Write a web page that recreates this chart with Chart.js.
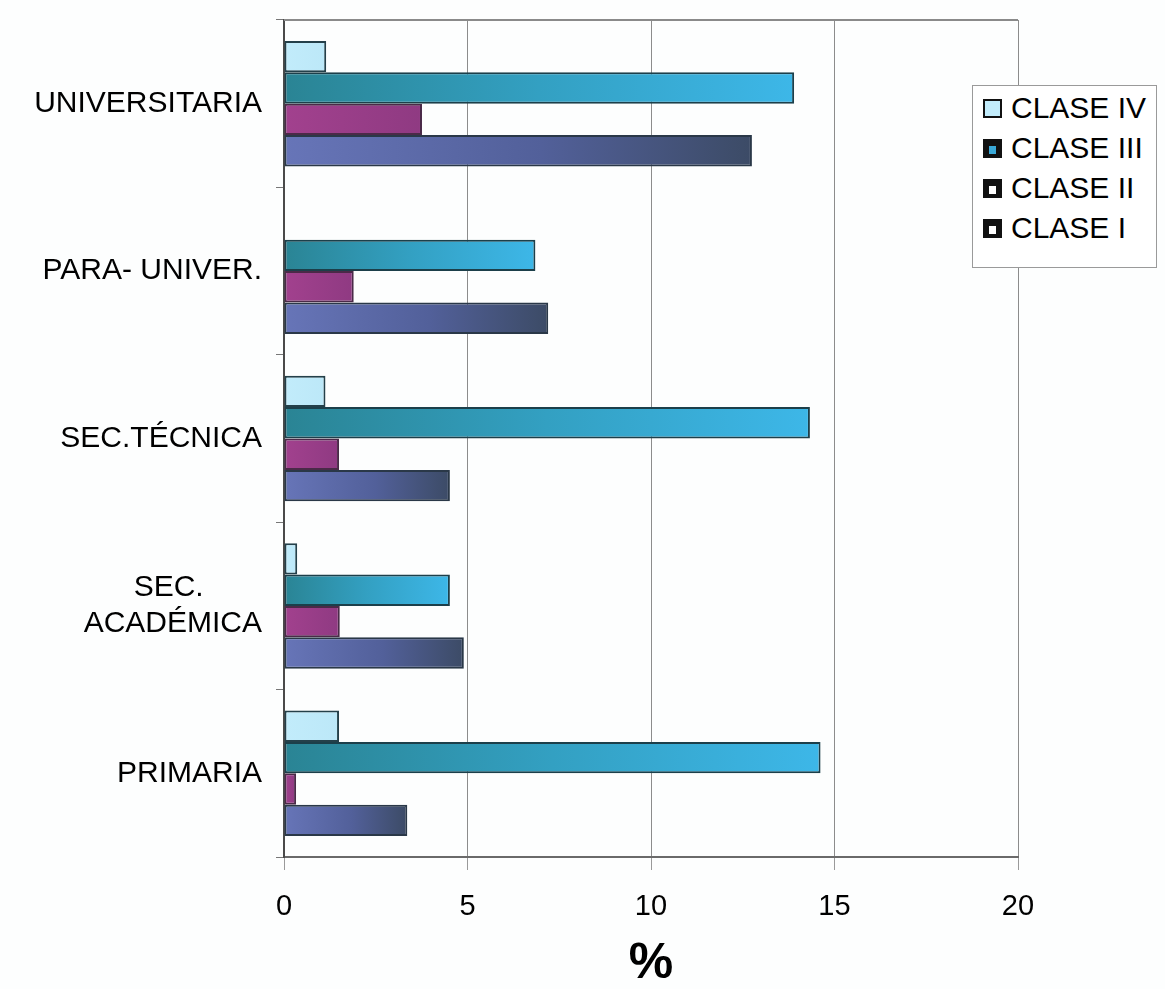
<!DOCTYPE html>
<html>
<head>
<meta charset="utf-8">
<script src="https://cdn.jsdelivr.net/npm/chart.js@4/dist/chart.umd.min.js"></script>
<style>
  html, body { margin: 0; padding: 0; background: #ffffff; }
  #wrap { position: relative; width: 1165px; height: 989px; overflow: hidden; background: #fdfefe; }
  #legend {
    position: absolute; left: 972px; top: 85px; width: 185px; height: 183px;
    border: 1px solid #9a9a9a; background: #ffffff; box-sizing: border-box;
    font-family: "Liberation Sans", Arial, sans-serif; font-size: 30px; color: #000;
  }
  .item { position: absolute; left: 10px; height: 30px; line-height: 30px; white-space: nowrap; }
  .sw { position: absolute; left: 0; top: 6px; width: 19px; height: 19px; box-sizing: border-box; border: 2px solid #111; }
  .sw i { position: absolute; left: 4px; top: 5px; width: 7px; height: 8px; }
  .lbl { position: absolute; left: 28px; top: 0; }
</style>
</head>
<body>
<div id="wrap">
  <canvas id="c" width="1165" height="989"></canvas>
  <div id="legend"></div>
</div>
<script>
// ---- data ----
const categories = ['UNIVERSITARIA', 'PARA- UNIVER.', 'SEC.TÉCNICA', ['SEC.       ', 'ACADÉMICA'], 'PRIMARIA'];
const seriesNames = ['CLASE IV', 'CLASE III', 'CLASE II', 'CLASE I'];
const claseIV  = [1.15, 0, 1.13, 0.36, 1.5];
const claseIII = [13.9, 6.85, 14.33, 4.52, 14.62];
const claseII  = [3.76, 1.9, 1.5, 1.52, 0.33];
const claseI   = [12.75, 7.2, 4.52, 4.9, 3.36];
const xTicks   = [0, 5, 10, 15, 20];

// ---- styles ----
const FONT = '"Liberation Sans", Arial, sans-serif';
const fills = [
  [[0, '#c2ecfb'], [1, '#bce8f8']],
  [[0, '#2a8494'], [0.5, '#33a0c2'], [1, '#3db7e8']],
  [[0, '#a2418e'], [1, '#8f3a82']],
  [[0, '#6775b8'], [0.55, '#52609a'], [1, '#3c4b66']]
];
const borders = ['#24404a', '#1c3f4a', '#4a2a48', '#2a3848'];
const swatchInner = ['#c2ecfb', '#3aa9d8', '#ffffff', '#ffffff'];

function grad(stops) {
  return (ctx) => {
    const chart = ctx.chart;
    if (!chart.chartArea || ctx.type !== 'data' || !chart.scales.x) return stops[stops.length - 1][1];
    const xs = chart.scales.x;
    const x0 = xs.getPixelForValue(0);
    const x1 = xs.getPixelForValue(ctx.raw);
    if (x1 - x0 < 2) return stops[0][1];
    const g = chart.ctx.createLinearGradient(x0, 0, x1, 0);
    stops.forEach(([o, c]) => g.addColorStop(o, c));
    return g;
  };
}

const seriesValues = [claseIV, claseIII, claseII, claseI];
const datasets = seriesValues.map((vals, i) => ({
  label: seriesNames[i],
  data: vals,
  backgroundColor: grad(fills[i]),
  borderColor: borders[i],
  borderWidth: 2,
  borderSkipped: false,
  categoryPercentage: 0.75,
  barPercentage: 1.0
}));

const framePlugin = {
  id: 'frame',
  afterDraw(chart) {
    const { ctx, chartArea: a } = chart;
    ctx.save();
    ctx.strokeStyle = '#8a8a8a';
    ctx.lineWidth = 2;
    ctx.beginPath();
    ctx.moveTo(a.left, a.top);
    ctx.lineTo(a.right, a.top);
    ctx.stroke();
    ctx.restore();
  }
};

new Chart(document.getElementById('c'), {
  type: 'bar',
  data: { labels: categories, datasets },
  plugins: [framePlugin],
  options: {
    indexAxis: 'y',
    responsive: false,
    devicePixelRatio: 1,
    animation: false,
    layout: { padding: { top: 20, right: 147, left: 0, bottom: 0 } },
    plugins: { legend: { display: false }, tooltip: { enabled: false } },
    scales: {
      x: {
        type: 'linear',
        min: xTicks[0],
        max: xTicks[xTicks.length - 1],
        afterBuildTicks(scale) { scale.ticks = xTicks.map(v => ({ value: v })); },
        afterFit(scale) { scale.height = 132; scale.paddingLeft = 0; scale.paddingRight = 0; },
        grid: { color: '#8c8c8c', lineWidth: 1, tickLength: 13, tickColor: '#9a9a9a' },
        border: { display: true, color: '#6a6a6a', width: 2 },
        ticks: { color: '#000', font: { family: FONT, size: 29 }, padding: 20 },
        title: {
          display: true, text: '%', color: '#000',
          font: { family: FONT, size: 50, weight: 'bold', lineHeight: 1 },
          padding: { top: 0, bottom: 0 }
        }
      },
      y: {
        type: 'category',
        afterFit(scale) { scale.width = 284; scale.paddingTop = 0; scale.paddingBottom = 0; },
        grid: { drawOnChartArea: false, drawTicks: true, tickLength: 8, tickColor: '#777', offset: true },
        border: { display: true, color: '#4a4a4a', width: 2 },
        ticks: { color: '#000', font: { family: FONT, size: 30, lineHeight: 1.2 }, padding: 14, autoSkip: false }
      }
    }
  }
});

// ---- legend (real text) ----
const legend = document.getElementById('legend');
const rowTops = [7, 47, 87, 127];
seriesNames.forEach((name, i) => {
  const it = document.createElement('div');
  it.className = 'item';
  it.style.top = rowTops[i] + 'px';
  const sw = document.createElement('span');
  sw.className = 'sw';
  sw.style.background = i === 0 ? fills[0][0][1] : '#111';
  if (i > 0) {
    const inner = document.createElement('i');
    inner.style.background = swatchInner[i];
    sw.appendChild(inner);
  }
  const lb = document.createElement('span');
  lb.className = 'lbl';
  lb.textContent = name;
  it.appendChild(sw);
  it.appendChild(lb);
  legend.appendChild(it);
});
</script>
</body>
</html>
